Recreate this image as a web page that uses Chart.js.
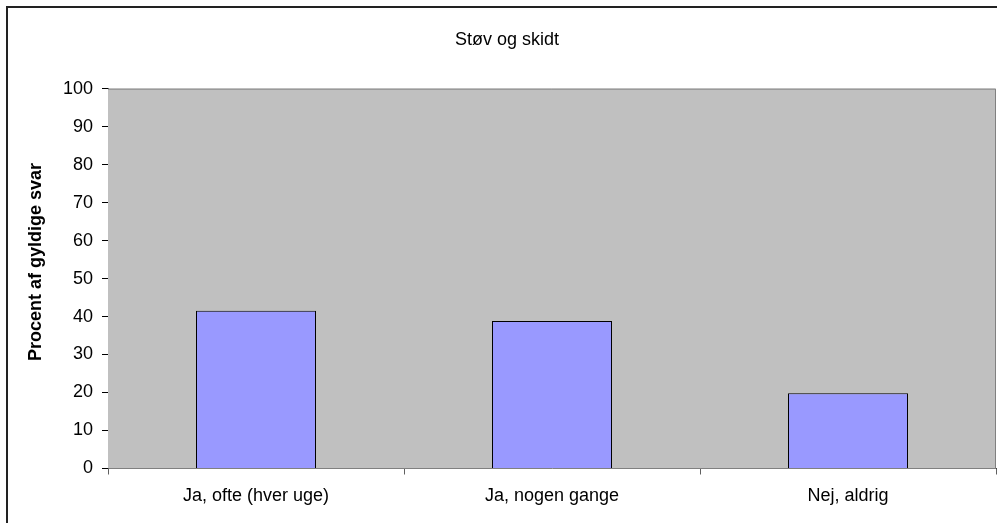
<!DOCTYPE html>
<html>
<head>
<meta charset="utf-8">
<script src="https://cdn.jsdelivr.net/npm/chart.js@4.4.1/dist/chart.umd.min.js"></script>
<style>
  html, body { margin: 0; padding: 0; background: #fff; overflow: hidden; }
  #wrap { position: relative; width: 997px; height: 523px; }
  #frame { position: absolute; left: 6px; top: 6px; width: 1000px; height: 600px; border: 2px solid #222; box-sizing: border-box; }
  canvas { position: absolute; left: 0; top: 0; }
</style>
</head>
<body>
<div id="wrap">
  <div id="frame"></div>
  <canvas id="chart" width="997" height="523"></canvas>
</div>
<script>
const categories = ["Ja, ofte (hver uge)", "Ja, nogen gange", "Nej, aldrig"];
const values = [41.5, 38.8, 19.8];
const yTicks = [0, 10, 20, 30, 40, 50, 60, 70, 80, 90, 100];
const yTitle = "Procent af gyldige svar";

const FONT = "'Liberation Sans', Arial, sans-serif";

// gray plot area with its border
const plotBg = {
  id: "plotBg",
  beforeDatasetsDraw(chart) {
    const a = chart.chartArea;
    const ctx = chart.ctx;
    ctx.save();
    ctx.fillStyle = "#C0C0C0";
    ctx.fillRect(a.left, a.top, a.right - a.left, a.bottom - a.top);
    ctx.strokeStyle = "#808080";
    ctx.lineWidth = 1;
    ctx.beginPath();
    ctx.moveTo(a.left, a.top + 0.5);
    ctx.lineTo(a.right - 0.5, a.top + 0.5);
    ctx.lineTo(a.right - 0.5, a.bottom);
    ctx.stroke();
    ctx.restore();
  }
};

// y axis title sits a bit above the middle of the plot, like the original
const yTitlePlugin = {
  id: "yTitlePlugin",
  afterDraw(chart) {
    const ctx = chart.ctx;
    ctx.save();
    ctx.translate(36, 262);
    ctx.rotate(-Math.PI / 2);
    ctx.font = "bold 18px " + FONT;
    ctx.fillStyle = "#000";
    ctx.textAlign = "center";
    ctx.textBaseline = "middle";
    ctx.fillText(yTitle, 0, 0);
    ctx.restore();
  }
};

new Chart(document.getElementById("chart"), {
  type: "bar",
  data: {
    labels: categories,
    datasets: [{
      data: values,
      backgroundColor: "#9999FF",
      borderColor: "#000",
      borderWidth: 1,
      barPercentage: 120 / 296,
      categoryPercentage: 1
    }]
  },
  options: {
    responsive: false,
    animation: false,
    layout: { padding: { left: 18, right: 1, top: 0, bottom: 0 } },
    plugins: {
      legend: { display: false },
      tooltip: { enabled: false },
      title: {
        display: true,
        text: "Støv og skidt",
        color: "#000",
        font: { family: FONT, size: 18, weight: "normal" },
        padding: { top: 29, bottom: 38 }
      }
    },
    scales: {
      x: {
        offset: true,
        grid: { offset: true, drawOnChartArea: false, tickLength: 6, color: "#606060" },
        border: { color: "#404040", width: 1 },
        ticks: { color: "#000", font: { family: FONT, size: 18 }, padding: 11, maxRotation: 0 },
        afterFit(s) { s.height = 54.5; }
      },
      y: {
        min: 0,
        max: 100,
        afterBuildTicks(s) { s.ticks = yTicks.map(v => ({ value: v })); },
        grid: { drawOnChartArea: false, tickLength: 6, color: "#000" },
        border: { color: "#000", width: 1 },
        ticks: { color: "#000", font: { family: FONT, size: 18 }, padding: 9 },
        afterFit(s) { s.width = 90; }
      }
    }
  },
  plugins: [plotBg, yTitlePlugin]
});
</script>
</body>
</html>
